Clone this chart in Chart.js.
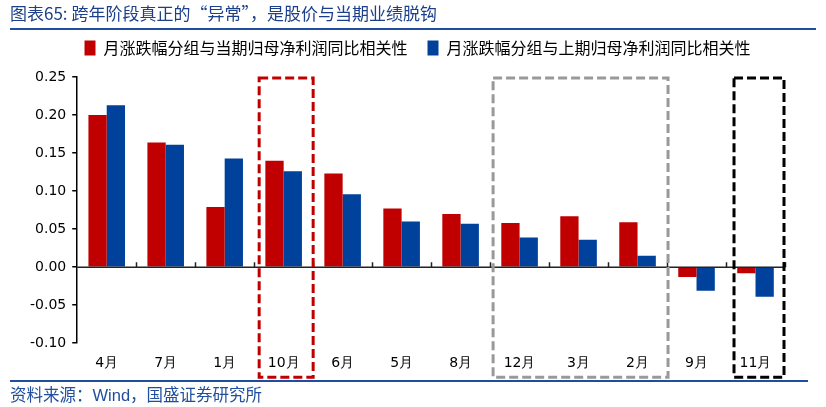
<!DOCTYPE html>
<html>
<head>
<meta charset="utf-8">
<script src="https://cdn.jsdelivr.net/npm/chart.js@4.4.1/dist/chart.umd.min.js"></script>
<style>
  html, body { margin: 0; padding: 0; background: #fff; }
  #wrap { position: relative; width: 826px; height: 407px; overflow: hidden; }
  #title { position: absolute; left: 10px; top: 0px; font: 17px "Noto Sans CJK SC", "DejaVu Sans", sans-serif; color: #1B3F8B; white-space: nowrap; }
  #tline { position: absolute; left: 10px; top: 28px; width: 806px; height: 2px; background: #1F4E9F; }
  #bline { position: absolute; left: 10px; top: 380px; width: 798px; height: 2px; background: #1F4E9F; }
  #source { position: absolute; left: 10px; top: 382px; font: 16.5px "Liberation Sans", "Noto Sans CJK SC", sans-serif; color: #1F4E9F; white-space: nowrap; }
  #cv { position: absolute; left: 0; top: 0; }
</style>
</head>
<body>
<div id="wrap">
  <canvas id="cv" width="826" height="407"></canvas>
  <div id="title">图表65: 跨年阶段真正的“异常”，是股价与当期业绩脱钩</div>
  <div id="tline"></div>
  <div id="bline"></div>
  <div id="source">资料来源：Wind，国盛证券研究所</div>
</div>
<script>
const categories = ['4月','7月','1月','10月','6月','5月','8月','12月','3月','2月','9月','11月'];
const seriesNames = ['月涨跌幅分组与当期归母净利润同比相关性', '月涨跌幅分组与上期归母净利润同比相关性'];
const currentCorr = [0.200, 0.164, 0.079, 0.140, 0.123, 0.077, 0.070, 0.058, 0.067, 0.059, -0.013, -0.008];
const previousCorr = [0.213, 0.161, 0.143, 0.126, 0.096, 0.060, 0.057, 0.039, 0.036, 0.015, -0.031, -0.039];
const yTicks = [-0.10, -0.05, 0.00, 0.05, 0.10, 0.15, 0.20, 0.25];
// highlighted groups: [first index, last index]
const highlightGroups = [[3, 3], [7, 9], [11, 11]];

const boxStyles = [
  { color: '#C00000', insetL: 5, insetR: 0 },
  { color: '#999999', insetL: 3, insetR: 1 },
  { color: '#000000', insetL: 8, insetR: -1 }
];

const legendSpace = {
  id: 'legendSpace',
  beforeInit(chart) {
    const origFit = chart.legend.fit;
    chart.legend.fit = function () {
      origFit.bind(chart.legend)();
      this.height += 11;
    };
  },
  afterLayout(chart) {
    chart.legend.left += 13;
    chart.legend.right += 13;
  }
};

const decorations = {
  id: 'decorations',
  afterDatasetsDraw(chart) {
    const ctx = chart.ctx;
    const x = chart.scales.x, y = chart.scales.y;
    const area = chart.chartArea;
    const n = categories.length;
    const cw = (area.right - area.left) / n;
    const y0 = y.getPixelForValue(0);
    ctx.save();
    ctx.strokeStyle = '#222';
    ctx.lineWidth = 1.5;
    ctx.beginPath();
    ctx.moveTo(area.left, y0);
    ctx.lineTo(area.right, y0);
    for (let i = 1; i <= n; i++) {
      const bx = Math.round(x.getPixelForValue(i - 1) + cw / 2) + 0.5;
      ctx.moveTo(bx, y0);
      ctx.lineTo(bx, y0 - 5);
    }
    ctx.stroke();
    ctx.restore();
  },
  afterDraw(chart) {
    const ctx = chart.ctx;
    const x = chart.scales.x;
    const area = chart.chartArea;
    const cw = (area.right - area.left) / categories.length;
    ctx.save();
    ctx.lineWidth = 3;
    ctx.setLineDash([9, 4]);
    highlightGroups.forEach((g, k) => {
      const st = boxStyles[k];
      const l = x.getPixelForValue(g[0]) - cw / 2 + st.insetL;
      const r = x.getPixelForValue(g[1]) + cw / 2 + st.insetR;
      const t = area.top + 1;
      const b = area.bottom + 34;
      ctx.strokeStyle = st.color;
      ctx.strokeRect(l, t, r - l, b - t);
    });
    ctx.restore();
  }
};

new Chart(document.getElementById('cv'), {
  type: 'bar',
  data: {
    labels: categories,
    datasets: [
      { label: seriesNames[0], data: currentCorr, backgroundColor: '#C00000', borderWidth: 0 },
      { label: seriesNames[1], data: previousCorr, backgroundColor: '#00419B', borderWidth: 0 }
    ]
  },
  options: {
    responsive: false,
    devicePixelRatio: 1,
    animation: false,
    layout: { padding: { top: 20, left: 24, right: 41, bottom: 23 } },
    plugins: {
      legend: {
        position: 'top',
        labels: {
          boxWidth: 11,
          boxHeight: 15,
          padding: 20,
          color: '#000',
          font: { family: '"Noto Sans CJK SC", sans-serif', size: 16 }
        }
      },
      tooltip: { enabled: false }
    },
    datasets: { bar: { barPercentage: 1.0, categoryPercentage: 0.62 } },
    scales: {
      x: {
        grid: { display: false, drawTicks: false },
        border: { display: false },
        ticks: { color: '#000', padding: 12, font: { family: '"DejaVu Sans", sans-serif', size: 14 }, maxRotation: 0 }
      },
      y: {
        min: -0.10,
        max: 0.25,
        afterBuildTicks(scale) { scale.ticks = yTicks.map(v => ({ value: v })); },
        grid: { drawOnChartArea: false, drawTicks: true, tickLength: 5, color: '#000', lineWidth: 1.5 },
        border: { display: true, color: '#000', width: 1.5 },
        ticks: { color: '#000', padding: 6, font: { family: '"DejaVu Sans", sans-serif', size: 14 }, callback: v => Number(v).toFixed(2) }
      }
    }
  },
  plugins: [legendSpace, decorations]
});
</script>
</body>
</html>
